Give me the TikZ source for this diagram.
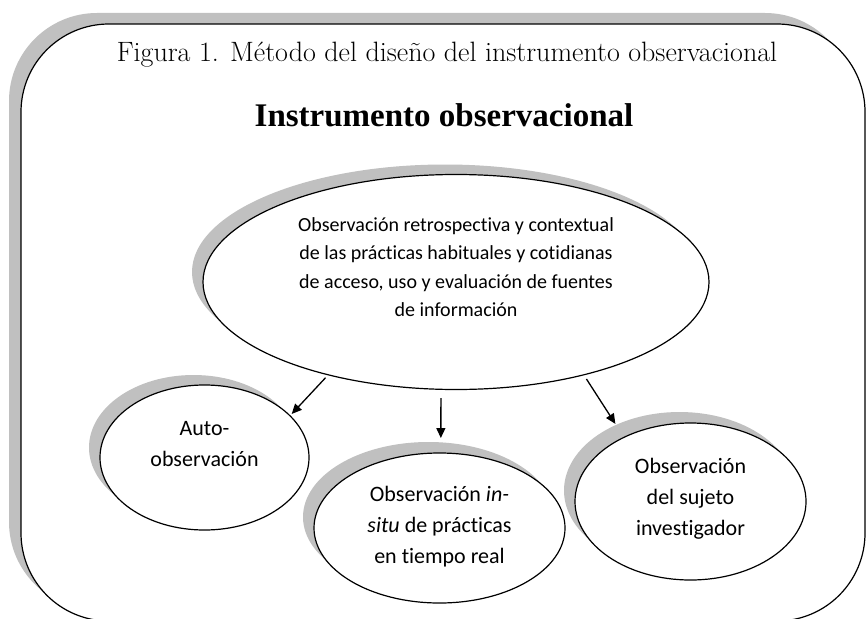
\documentclass[tikz,border=0pt]{standalone}
\usepackage{fontspec}
\newfontfamily\calib[Ligatures=NoCommon]{Carlito}
\newfontfamily\timesf{Liberation Serif}
\usetikzlibrary{shapes.geometric,arrows.meta}
\definecolor{shadowgray}{RGB}{192,192,192}
\tikzset{
  shad/.style={fill=shadowgray, draw=none, inner sep=0pt, outer sep=0pt},
  ell/.style={ellipse, draw=black, line width=1.2pt, fill=white, inner sep=0pt, outer sep=0pt},
  frm/.style={rectangle, rounded corners=88pt, inner sep=0pt, outer sep=0pt, minimum width=844pt, minimum height=597pt},
  body/.style={align=center, inner sep=0pt, font=\calib\fontsize{22}{31}\selectfont},
  bigbody/.style={align=center, inner sep=0pt, font=\calib\fontsize{20}{28.4}\selectfont},
  arr/.style={line width=1.3pt, -{Triangle[length=10pt,width=9pt]}}
}
\begin{document}
\begin{tikzpicture}[x=1pt,y=-1pt]
\useasboundingbox (0,0) rectangle (866,618);
% frame
\node[frm, shad] (frameS) at (431,311.5) {};
\node[frm, draw=black, line width=1.2pt, fill=white] (frame) at (443,322.5) {};
% titles
\node[anchor=base, inner sep=0pt, font=\fontsize{28}{34}\selectfont] (title) at (447,62) {Figura 1. Método del diseño del instrumento observacional};
\node[anchor=base, inner sep=0pt, font=\timesf\bfseries\fontsize{33}{40}\selectfont] (head) at (444,126) {Instrumento observacional};
% big ellipse
\node[ellipse, shad, minimum width=506pt, minimum height=215pt] (bigS) at (445,272) {};
\node[ell, minimum width=506pt, minimum height=215pt] (big) at (456,282) {};
\node[bigbody] (bigT) at (456,267) {Observación retrospectiva y contextual\\de las prácticas habituales y cotidianas\\de acceso, uso y evaluación de fuentes\\de información};
% auto
\node[ellipse, shad, minimum width=209pt, minimum height=145pt] (autoS) at (193.5,447.5) {};
\node[ell, minimum width=209pt, minimum height=145pt] (auto) at (204.5,457.5) {};
\node[body] (autoT) at (204.5,444) {Auto-\\observación};
% in situ
\node[ellipse, shad, minimum width=251pt, minimum height=150pt] (insituS) at (428.5,517) {};
\node[ell, minimum width=251pt, minimum height=150pt] (insitu) at (439.5,528) {};
\node[body] (insituT) at (439.5,527) {Observación \textit{in-}\\\textit{situ} de prácticas\\en tiempo real};
% investigador
\node[ellipse, shad, minimum width=231pt, minimum height=157pt] (invS) at (679.5,490.5) {};
\node[ell, minimum width=231pt, minimum height=157pt] (inv) at (690.5,501.5) {};
\node[body] (invT) at (690.5,499) {Observación\\del sujeto\\investigador};
% arrows
\draw[arr, shorten <=4pt, shorten >=2.5pt] (big.216) -- (auto.26);
\draw[arr, shorten <=8.7pt, shorten >=15pt] (big.262) -- (insitu.89);
\draw[arr, shorten <=5pt, shorten >=16pt] (big.324) -- (inv.136);
\end{tikzpicture}
\end{document}
